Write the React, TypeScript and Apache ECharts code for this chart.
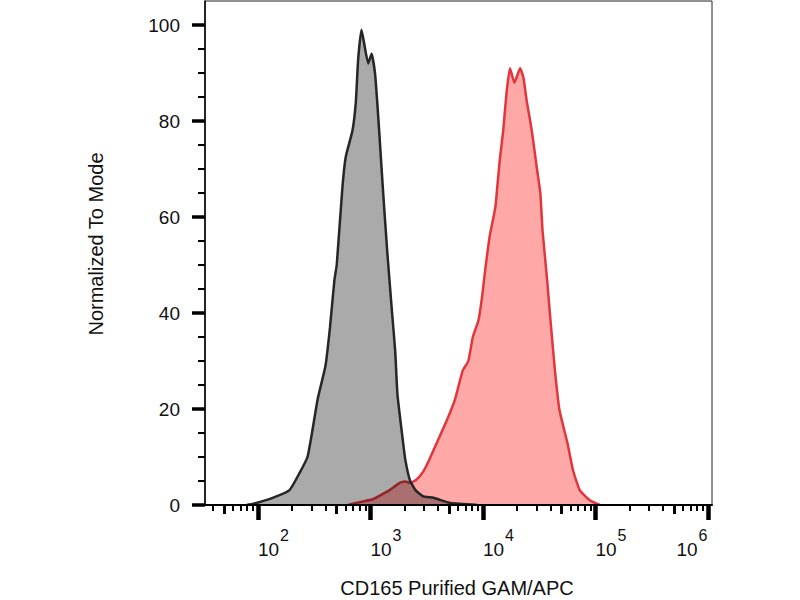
import React, { useEffect, useRef } from "react";
import * as echarts from "echarts";

// Isotype control (gray) — x: log10 fluorescence intensity, y: % of mode
const grayLog = [1.90, 1.95, 2.13, 2.28, 2.37, 2.44, 2.48, 2.53, 2.60, 2.64, 2.68, 2.70, 2.75, 2.78, 2.84, 2.87, 2.89, 2.92, 2.98, 3.01, 3.04, 3.06, 3.08, 3.11, 3.15, 3.19, 3.22, 3.24, 3.29, 3.31, 3.35, 3.40, 3.47, 3.56, 3.71, 3.95];
const grayCount = [0, 0.2, 1.5, 3.1, 6.7, 10, 15, 22, 29, 37, 47, 50, 66, 72.5, 78, 84, 92.7, 99, 92, 94, 90, 84, 77, 66, 52.5, 40.6, 32, 23, 13, 9.4, 5.2, 3.1, 1.8, 1.5, 0.4, 0];

// CD165 stained sample (red)
const redLog = [2.80, 2.85, 3.02, 3.11, 3.17, 3.26, 3.31, 3.35, 3.41, 3.47, 3.53, 3.60, 3.68, 3.75, 3.82, 3.87, 3.91, 3.96, 3.99, 4.02, 4.06, 4.11, 4.13, 4.15, 4.18, 4.21, 4.24, 4.28, 4.33, 4.36, 4.39, 4.42, 4.44, 4.48, 4.51, 4.53, 4.57, 4.60, 4.64, 4.68, 4.75, 4.80, 4.86, 4.95, 5.04];
const redCount = [0, 0.3, 1.2, 2.3, 3.1, 4.6, 4.9, 4.6, 5.3, 7.0, 9.8, 13.5, 17.7, 21.9, 28, 30, 35, 38.5, 43, 49, 56, 62, 67, 72, 78, 86, 91, 88, 91, 89, 84, 80, 77, 70, 65, 57, 47, 38.5, 28, 19.8, 13, 7.3, 3.1, 1, 0];

const xDecades = [2, 3, 4, 5, 6];
const xLabelExponents = [2, 3, 4, 5, 6];
const yMajorTicks = [0, 20, 40, 60, 80, 100];
const yMinorTicks = [5, 10, 15, 25, 30, 35, 45, 50, 55, 65, 70, 75, 85, 90, 95];
const xTitle = "CD165 Purified GAM/APC";
const yTitle = "Normalized To Mode";

const X_MIN = 1.529;
const X_MAX = 6.036;
const Y_MIN = 0;
const Y_MAX = 105;

const FONT = "'Liberation Sans', Arial, Helvetica, sans-serif";

export default function App() {
  const ref = useRef<HTMLDivElement>(null);

  useEffect(() => {
    document.body.style.margin = "0";
    if (!ref.current) return;
    const chart = echarts.init(ref.current, undefined, { renderer: "svg" });

    const xMid: number[] = [];
    const xMinor: number[] = [];
    for (let d = 1; d <= 5; d++) {
      for (let k = 2; k <= 9; k++) {
        const v = d + Math.log10(k);
        if (v < X_MIN || v > X_MAX) continue;
        if (k === 5) xMid.push(v);
        else xMinor.push(v);
      }
    }
    // last label is pulled inside the plot so it does not overflow
    const labelPos = xLabelExponents.map((e) => (e === 6 ? 5.72 : e));

    const gray = grayLog.map((x, i) => [x, grayCount[i]]);
    const red = redLog.map((x, i) => [x, redCount[i]]);

    const tickAxisBase = {
      type: "value",
      position: "bottom",
      min: X_MIN,
      max: X_MAX,
      z: 6,
      axisLine: { show: false },
      axisLabel: { show: false },
      splitLine: { show: false },
    };

    const option: any = {
      animation: false,
      backgroundColor: "#ffffff",
      grid: {
        left: 205,
        right: 88,
        top: 1,
        bottom: 95,
        show: true,
        borderColor: "#222",
        borderWidth: 1,
        backgroundColor: "transparent",
        outerBoundsMode: "none",
      },
      xAxis: [
        {
          type: "value",
          position: "bottom",
          min: X_MIN,
          max: X_MAX,
          z: 6,
          axisLine: { show: true, onZero: false, lineStyle: { color: "#000", width: 2 } },
          axisTick: { show: true, customValues: xDecades, length: 15, lineStyle: { color: "#000", width: 4.5 } },
          axisLabel: {
            show: true,
            customValues: labelPos,
            align: "left",
            margin: 22,
            formatter: (v: number) => {
              const e = v > 5.5 ? 6 : Math.round(v);
              return `{b|10}{s|${e}}`;
            },
            rich: {
              b: { fontSize: 19, fontFamily: FONT, color: "#111", verticalAlign: "bottom" },
              s: { fontSize: 16, fontFamily: FONT, color: "#111", verticalAlign: "bottom", padding: [0, 0, 16, 1] },
            },
          },
          splitLine: { show: false },
        },
        {
          ...tickAxisBase,
          axisTick: { show: true, customValues: xMid, length: 9, lineStyle: { color: "#000", width: 3 } },
        },
        {
          ...tickAxisBase,
          axisTick: { show: true, customValues: xMinor, length: 6, lineStyle: { color: "#000", width: 2 } },
        },
      ],
      yAxis: [
        {
          type: "value",
          position: "left",
          min: Y_MIN,
          max: Y_MAX,
          z: 6,
          axisLine: { show: true, onZero: false, lineStyle: { color: "#000", width: 1.5 } },
          axisTick: { show: true, customValues: yMajorTicks, length: 13, lineStyle: { color: "#000", width: 3.5 } },
          axisLabel: {
            show: true,
            customValues: yMajorTicks,
            margin: 25,
            fontSize: 19,
            fontFamily: FONT,
            color: "#111",
          },
          splitLine: { show: false },
        },
        {
          type: "value",
          position: "left",
          min: Y_MIN,
          max: Y_MAX,
          z: 6,
          axisLine: { show: false },
          axisTick: { show: true, customValues: yMinorTicks, length: 7, lineStyle: { color: "#000", width: 2 } },
          axisLabel: { show: false },
          splitLine: { show: false },
        },
      ],
      series: [
        {
          name: "CD165",
          type: "line",
          xAxisIndex: 0,
          yAxisIndex: 0,
          data: red,
          showSymbol: false,
          symbol: "none",
          smooth: 0.15,
          z: 2,
          lineStyle: { color: "#e0363c", width: 2.5 },
          areaStyle: { color: "#ffa8a8", opacity: 1 },
        },
        {
          name: "Isotype",
          type: "line",
          xAxisIndex: 0,
          yAxisIndex: 0,
          data: gray,
          showSymbol: false,
          symbol: "none",
          smooth: 0.15,
          z: 3,
          lineStyle: { color: "#262626", width: 2.5 },
          areaStyle: { color: "rgba(0,0,0,0.335)", opacity: 1 },
        },
      ],
      graphic: [
        {
          type: "text",
          x: 96,
          y: 244,
          rotation: Math.PI / 2,
          style: { text: yTitle, fontSize: 20, fontFamily: FONT, fill: "#111", align: "center", verticalAlign: "middle" },
        },
        {
          type: "text",
          x: 457,
          y: 588,
          style: { text: xTitle, fontSize: 20, fontFamily: FONT, fill: "#111", align: "center", verticalAlign: "middle" },
        },
      ],
    };

    chart.setOption(option);
    return () => chart.dispose();
  }, []);

  return <div ref={ref} style={{ width: 800, height: 600 }} />;
}
